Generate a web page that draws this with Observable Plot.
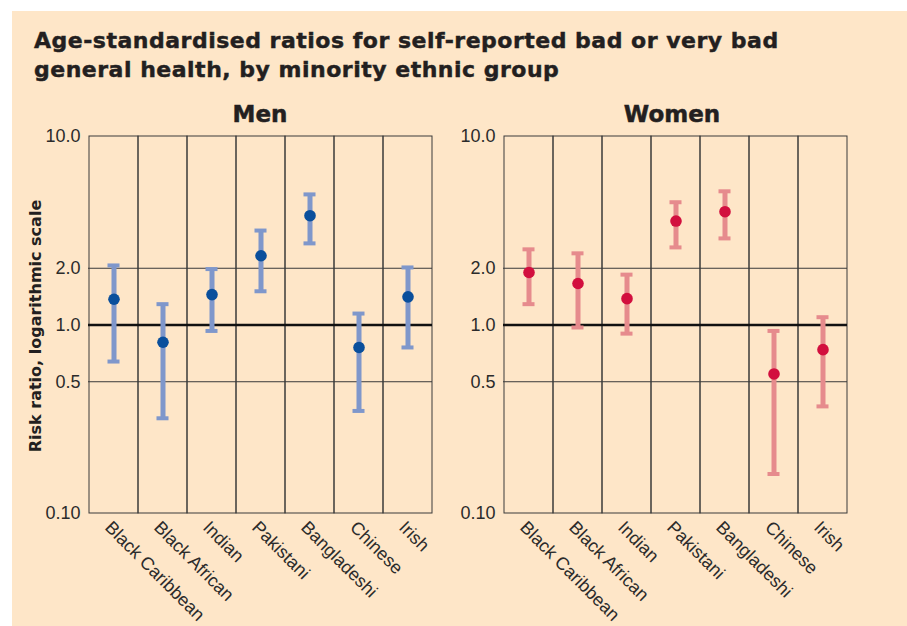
<!DOCTYPE html>
<html>
<head>
<meta charset="utf-8">
<script src="https://cdn.jsdelivr.net/npm/d3@7"></script>
<script src="https://cdn.jsdelivr.net/npm/@observablehq/plot@0.6"></script>
<style>
  html, body { margin: 0; padding: 0; background: #ffffff; }
  body { width: 907px; height: 626px; position: relative; overflow: hidden; }
  #bg { position: absolute; left: 12px; top: 11px; width: 895px; height: 615px; background: #fee6c8; }
  .title { position: absolute; left: 34px; top: 27px; font-family: "DejaVu Sans", "Liberation Sans", Arial, sans-serif; font-weight: bold; font-size: 22px; letter-spacing: 0.5px; line-height: 28.5px; color: #231f20; white-space: nowrap; -webkit-text-stroke: 0.45px #231f20; }
  .panel-title { position: absolute; top: 101px; width: 200px; text-align: center; font-family: "DejaVu Sans", "Liberation Sans", Arial, sans-serif; font-weight: bold; font-size: 23px; color: #231f20; -webkit-text-stroke: 0.5px #231f20; }
  .ylabel { position: absolute; left: 34.5px; top: 326px; transform: translate(-50%, -50%) rotate(-90deg); font-family: "DejaVu Sans", "Liberation Sans", Arial, sans-serif; font-weight: bold; font-size: 16px; color: #231f20; white-space: nowrap; }
  .panel { position: absolute; top: 100px; }
  .panel svg { overflow: visible; }
</style>
</head>
<body>
<div id="bg"></div>
<div class="title">Age-standardised ratios for self-reported bad or very bad<br>general health, by minority ethnic group</div>
<div class="panel-title" style="left:160px">Men</div>
<div class="panel-title" style="left:572px">Women</div>
<div class="ylabel">Risk ratio, logarithmic scale</div>
<div class="panel" id="men" style="left:0px"></div>
<div class="panel" id="women" style="left:415px"></div>
<script>
const groups = ["Black Caribbean", "Black African", "Indian", "Pakistani", "Bangladeshi", "Chinese", "Irish"];

const menRR = [1.37, 0.81, 1.45, 2.33, 3.80, 0.76, 1.41];
const menLo = [0.64, 0.32, 0.93, 1.51, 2.71, 0.35, 0.76];
const menHi = [2.07, 1.29, 1.98, 3.17, 4.93, 1.15, 2.02];

const womenRR = [1.90, 1.66, 1.38, 3.56, 3.99, 0.55, 0.74];
const womenLo = [1.29, 0.97, 0.90, 2.58, 2.88, 0.162, 0.37];
const womenHi = [2.52, 2.40, 1.85, 4.48, 5.12, 0.93, 1.10];

const tickVals = [0.1, 0.5, 1, 2, 10];
const tickText = ["0.10", "0.5", "1.0", "2.0", "10.0"];
const gridVals = [0.5, 2];
const refVal = [1];

function panel(rr, lo, hi, barColor, dotColor) {
  const data = groups.map((g, i) => ({g, rr: rr[i], lo: lo[i], hi: hi[i]}));
  return Plot.plot({
    width: 450,
    height: 526,
    marginLeft: 88,
    marginRight: 18,
    marginTop: 36,
    marginBottom: 113,
    style: {background: "transparent", fontFamily: "'Liberation Sans', Arial, sans-serif", color: "#231f20"},
    x: {domain: groups, padding: 0},
    y: {type: "log", domain: [0.1, 10]},
    marks: [
      Plot.cell(groups, {x: d => d, fill: "none", stroke: "#3a3a3a", strokeWidth: 1, inset: 0}),
      Plot.ruleY(gridVals, {stroke: "#3a3a3a", strokeWidth: 1}),
      Plot.ruleY(refVal, {stroke: "#111", strokeWidth: 2.6}),
      Plot.axisY(tickVals, {
        tickFormat: d => tickText[tickVals.indexOf(d)],
        tickSize: 0, tickPadding: 8, fontSize: 18, fill: "#2b2b2b", label: null
      }),
      Plot.axisX({tickRotate: 45, tickSize: 0, tickPadding: 3, dx: -6, dy: 8, fontSize: 18, fill: "#2b2b2b", label: null}),
      Plot.ruleX(data, {x: "g", y1: "lo", y2: "hi", stroke: barColor, strokeWidth: 5}),
      Plot.tickY(data, {x: "g", y: "lo", stroke: barColor, strokeWidth: 4, insetLeft: 18.5, insetRight: 18.5}),
      Plot.tickY(data, {x: "g", y: "hi", stroke: barColor, strokeWidth: 4, insetLeft: 18.5, insetRight: 18.5}),
      Plot.dot(data, {x: "g", y: "rr", r: 5.8, fill: dotColor, stroke: "none"})
    ]
  });
}

document.getElementById("men").append(panel(menRR, menLo, menHi, "#7f97cb", "#0a4f9c"));
document.getElementById("women").append(panel(womenRR, womenLo, womenHi, "#e68b8d", "#d20f3e"));
</script>
</body>
</html>
